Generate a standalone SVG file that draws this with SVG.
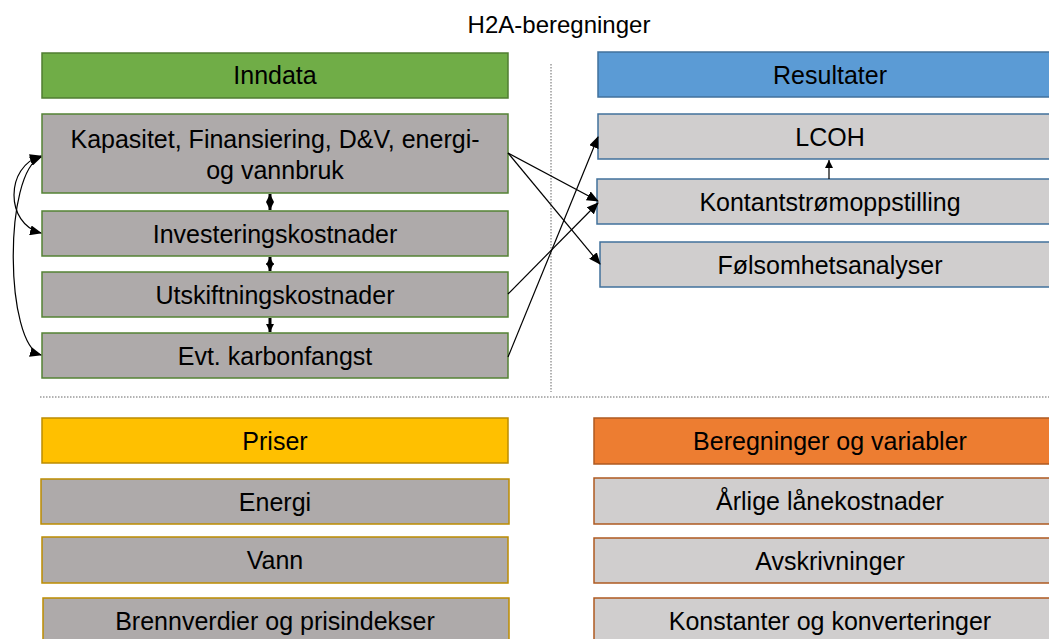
<svg xmlns="http://www.w3.org/2000/svg" width="1049" height="639" viewBox="0 0 1049 639">
<style>
text{font-family:"Liberation Sans",Arial,sans-serif;font-size:25px;fill:#000;text-anchor:middle}
.hdrG{fill:#70AD47;stroke:#507E32;stroke-width:1.5}
.hdrB{fill:#5B9BD5;stroke:#41719C;stroke-width:1.5}
.hdrY{fill:#FFC000;stroke:#BC8C00;stroke-width:1.5}
.hdrO{fill:#ED7D31;stroke:#AE5A21;stroke-width:1.5}
.gG{fill:#AEAAAA;stroke:#548235;stroke-width:1.5}
.gB{fill:#D0CECE;stroke:#41719C;stroke-width:1.5}
.gY{fill:#AEAAAA;stroke:#BC8C00;stroke-width:1.5}
.gO{fill:#D0CECE;stroke:#AE5A21;stroke-width:1.5}
.con{fill:none;stroke:#000;stroke-width:1.2}
.thick{fill:none;stroke:#000;stroke-width:3}
.dot{stroke:#666;stroke-width:1;stroke-dasharray:1.5 1.5}
</style>
<defs>
<marker id="ah" markerUnits="userSpaceOnUse" markerWidth="12" markerHeight="10" refX="11" refY="5" orient="auto-start-reverse" viewBox="0 0 12 10"><path d="M0,0 L12,5 L0,10 Z" fill="#000"/></marker>
<marker id="ahs" markerUnits="userSpaceOnUse" markerWidth="8" markerHeight="8" refX="8" refY="4" orient="auto-start-reverse" viewBox="0 0 8 8"><path d="M0,0 L8,4 L0,8 Z" fill="#000"/></marker>
</defs>
<rect width="1049" height="639" fill="#fff"/>
<text x="559" y="33" style="font-size:24px">H2A-beregninger</text>
<g id="dividers">
<line class="dot" x1="551" y1="64" x2="551" y2="392"/>
<line class="dot" x1="40" y1="397" x2="1049" y2="397"/>
</g>
<g id="inndata"><rect class="hdrG" x="42" y="53" width="466" height="45"/><text x="275" y="84">Inndata</text></g>
<g id="kapasitet"><rect class="gG" x="42" y="114" width="466" height="79"/><text x="275" y="148">Kapasitet, Finansiering, D&amp;V, energi-</text><text x="275" y="179">og vannbruk</text></g>
<g id="investering"><rect class="gG" x="42" y="211" width="466" height="45"/><text x="275" y="243">Investeringskostnader</text></g>
<g id="utskiftning"><rect class="gG" x="42" y="272" width="466" height="45"/><text x="275" y="304">Utskiftningskostnader</text></g>
<g id="karbonfangst"><rect class="gG" x="42" y="333" width="466" height="45"/><text x="275" y="365">Evt. karbonfangst</text></g>
<g id="resultater"><rect class="hdrB" x="598" y="52" width="470" height="45"/><text x="830" y="84">Resultater</text></g>
<g id="lcoh"><rect class="gB" x="598" y="114" width="470" height="45"/><text x="830" y="146">LCOH</text></g>
<g id="kontant"><rect class="gB" x="597" y="179" width="470" height="45"/><text x="830" y="211">Kontantstrømoppstilling</text></g>
<g id="folsomhet"><rect class="gB" x="600" y="242" width="470" height="45"/><text x="830" y="274">Følsomhetsanalyser</text></g>
<g id="priser"><rect class="hdrY" x="42" y="418" width="466" height="45"/><text x="275" y="450">Priser</text></g>
<g id="energi"><rect class="gY" x="41" y="479" width="468" height="45"/><text x="275" y="511">Energi</text></g>
<g id="vann"><rect class="gY" x="42" y="537" width="466" height="46"/><text x="275" y="569">Vann</text></g>
<g id="brennverdier"><rect class="gY" x="43" y="598" width="466" height="50"/><text x="275" y="630">Brennverdier og prisindekser</text></g>
<g id="beregninger"><rect class="hdrO" x="594" y="418" width="470" height="46"/><text x="830" y="450">Beregninger og variabler</text></g>
<g id="arlige"><rect class="gO" x="594" y="478" width="470" height="46"/><text x="830" y="510">Årlige lånekostnader</text></g>
<g id="avskrivninger"><rect class="gO" x="594" y="538" width="470" height="45"/><text x="830" y="570">Avskrivninger</text></g>
<g id="konstanter"><rect class="gO" x="594" y="598" width="470" height="50"/><text x="830" y="630">Konstanter og konverteringer</text></g>
<g id="connectors">
<line class="thick" x1="270" y1="194" x2="270" y2="210" marker-start="url(#ahs)" marker-end="url(#ahs)"/>
<line class="thick" x1="270" y1="257" x2="270" y2="271" marker-start="url(#ahs)" marker-end="url(#ahs)"/>
<line class="thick" x1="270" y1="318" x2="270" y2="332" marker-end="url(#ahs)"/>
<path class="con" d="M41,156 C5,166 5,224 41,233" marker-start="url(#ah)" marker-end="url(#ah)"/>
<path class="con" d="M41,157 C3,172 5,345 41,355" marker-start="url(#ah)" marker-end="url(#ah)"/>
<line class="con" x1="508" y1="153" x2="598" y2="201" marker-end="url(#ah)"/>
<line class="con" x1="508" y1="153" x2="600" y2="264" marker-end="url(#ah)"/>
<line class="con" x1="508" y1="294" x2="598" y2="203" marker-end="url(#ah)"/>
<line class="con" x1="508" y1="357" x2="598" y2="137" marker-end="url(#ah)"/>
<line class="con" x1="829" y1="179" x2="829" y2="160" marker-end="url(#ahs)"/>
</g>
</svg>
